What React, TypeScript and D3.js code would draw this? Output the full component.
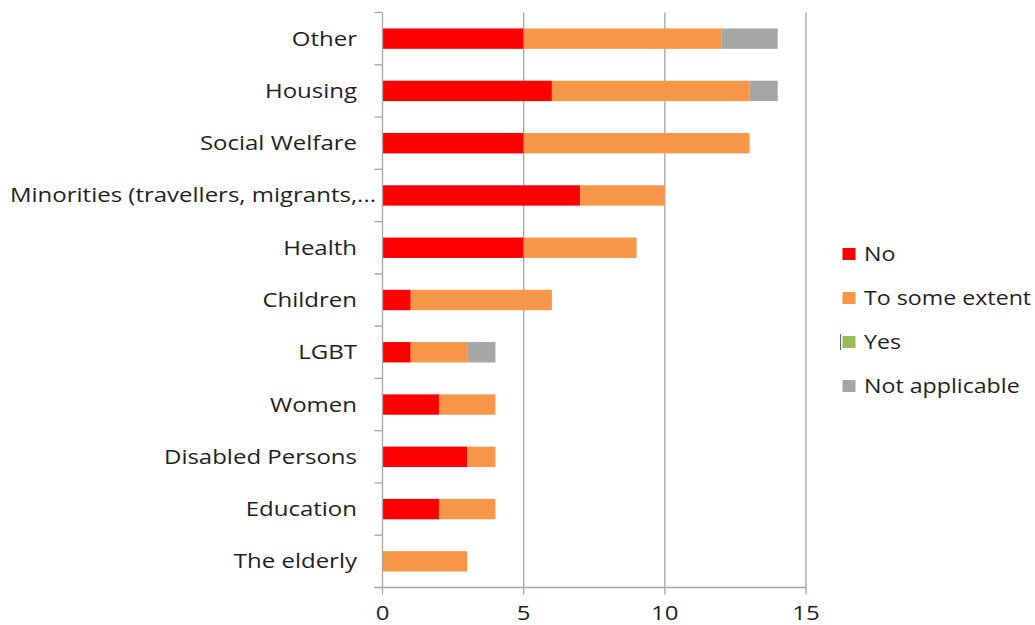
import React from "react";
import * as d3 from "d3";

const categories = [
  "Other",
  "Housing",
  "Social Welfare",
  "Minorities (travellers, migrants,...",
  "Health",
  "Children",
  "LGBT",
  "Women",
  "Disabled Persons",
  "Education",
  "The elderly",
];
const seriesNames = ["No", "To some extent", "Yes", "Not applicable"];
const noValues = [5, 6, 5, 7, 5, 1, 1, 2, 3, 2, 0];
const someValues = [7, 7, 8, 3, 4, 5, 2, 2, 1, 2, 3];
const yesValues = [0, 0, 0, 0, 0, 0, 0, 0, 0, 0, 0];
const naValues = [2, 1, 0, 0, 0, 0, 1, 0, 0, 0, 0];
const xTicks = [0, 5, 10, 15];
const colors = ["#ff0000", "#f79646", "#9bbb59", "#a6a6a6"];

const W = 1035;
const H = 625;
const plot = { left: 382.5, right: 806, top: 12.5, bottom: 587.5 };
const FONT = "'Open Sans', sans-serif";
const FS = 20;
const SX = 1.2;
const TEXT = "#1f1f1f";
const GRID = "#a6a6a6";

function T(props: { x: number; y: number; anchor?: string; sx?: number; children: any }) {
  const { x, y, anchor = "start", sx = SX, children } = props;
  return (
    <text
      transform={`translate(${x},${y}) scale(${sx},1)`}
      textAnchor={anchor as any}
      dy="0.35em"
      fontFamily={FONT}
      fontSize={FS}
      fill={TEXT}
    >
      {children}
    </text>
  );
}

export default function App() {
  const x = d3.scaleLinear().domain([0, 15]).range([plot.left, plot.right]);
  const y = d3
    .scaleBand<string>()
    .domain(categories)
    .range([plot.top, plot.bottom])
    .paddingInner(0.61)
    .paddingOuter(0.305);
  const band = (plot.bottom - plot.top) / categories.length;

  const rows = categories.map((c, i) => ({
    cat: c,
    vals: [noValues[i], someValues[i], yesValues[i], naValues[i]],
  }));
  const stack = d3
    .stack<any>()
    .keys([0, 1, 2, 3] as any)
    .value((d: any, k: any) => d.vals[k]);
  const series = stack(rows as any);

  return (
    <div style={{ position: "absolute", left: 0, top: 0 }}>
      <svg width={W} height={H} style={{ display: "block", background: "#fff" }}>
        {xTicks.slice(1).map((t) => (
          <line key={"g" + t} x1={x(t)} x2={x(t)} y1={plot.top} y2={plot.bottom} stroke={GRID} strokeWidth={1.3} />
        ))}
        {series.map((s, si) =>
          s.map((d: any, i: number) => {
            const w = x(d[1]) - x(d[0]);
            if (w <= 0) return null;
            return (
              <rect
                key={si + "-" + i}
                x={x(d[0])}
                y={y(categories[i])}
                width={w}
                height={y.bandwidth()}
                fill={colors[si]}
              />
            );
          })
        )}
        <line x1={plot.left} x2={plot.left} y1={plot.top} y2={plot.bottom} stroke={GRID} strokeWidth={1.3} />
        {d3.range(categories.length + 1).map((i) => (
          <line
            key={"yt" + i}
            x1={plot.left - 8}
            x2={plot.left}
            y1={plot.top + i * band}
            y2={plot.top + i * band}
            stroke={GRID}
            strokeWidth={1.3}
          />
        ))}
        <line x1={plot.left - 8} x2={plot.right} y1={plot.bottom} y2={plot.bottom} stroke={GRID} strokeWidth={1.3} />
        {xTicks.map((t) => (
          <g key={"xt" + t}>
            <line x1={x(t)} x2={x(t)} y1={plot.bottom} y2={plot.bottom + 7} stroke={GRID} strokeWidth={1.3} />
            <T x={x(t)} y={plot.bottom + 25} anchor="middle">
              {t}
            </T>
          </g>
        ))}
        {categories.map((c) => (
          <T
            key={"c" + c}
            x={c.endsWith("...") ? 376 : 357}
            y={(y(c) as number) + y.bandwidth() / 2}
            anchor="end"
          >
            {c}
          </T>
        ))}
        {seriesNames.map((n, i) => {
          const cy = 254 + i * 44;
          return (
            <g key={"l" + n}>
              {i === 2 && (
                <line x1={840.5} x2={840.5} y1={cy - 8} y2={cy + 8} stroke="#4f6b8a" strokeWidth={1} />
              )}
              <rect x={842.5} y={cy - 6} width={13} height={12} fill={colors[i]} />
              <T x={864} y={cy} sx={1.16}>
                {n}
              </T>
            </g>
          );
        })}
      </svg>
    </div>
  );
}
